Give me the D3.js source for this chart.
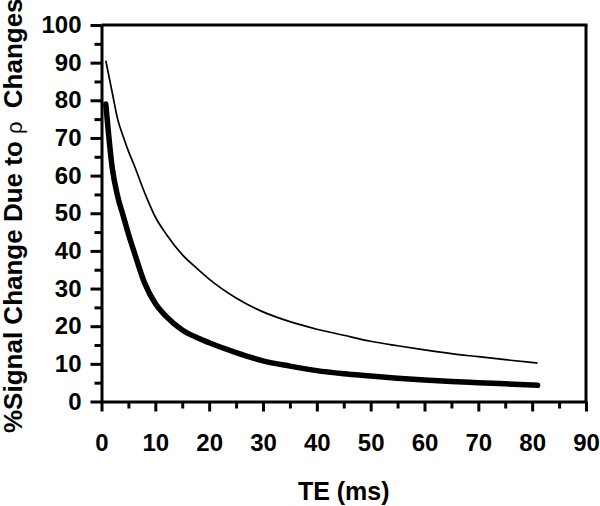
<!DOCTYPE html>
<html>
<head>
<meta charset="utf-8">
<script src="https://cdn.jsdelivr.net/npm/d3@7"></script>
<style>
    html, body { margin: 0; padding: 0; background: #fff; }
    svg { display: block; font-family: "Liberation Sans", Arial, sans-serif; }
</style>
</head>
<body>
<div id="chart"></div>
<script>
// TE values (ms) and % signal change
const te = [0.8, 2, 3, 4, 5, 6, 8, 10, 12, 15, 18, 20, 25, 30, 35, 40, 45, 50, 55, 60, 65, 70, 75, 81];
const thinSeries = [90.5, 82, 75, 70.5, 66.5, 63, 55.5, 49, 44.5, 39, 35, 32.5, 27.5, 23.8, 21.2, 19.2, 17.6, 16, 14.8, 13.7, 12.7, 11.9, 11.1, 10.2];
const thickSeries = [79, 62, 54.5, 49.5, 44.5, 40, 31.5, 26, 22.6, 19, 16.8, 15.6, 13, 10.8, 9.4, 8.2, 7.4, 6.8, 6.2, 5.7, 5.3, 5.0, 4.7, 4.3];

const xTicks = [0, 10, 20, 30, 40, 50, 60, 70, 80, 90];
const yTicks = [0, 10, 20, 30, 40, 50, 60, 70, 80, 90, 100];

const width = 600, height = 506;
const plotLeft = 101.5, plotRight = 586, plotTop = 25, plotBottom = 401.5;

const svg = d3.select("#chart")
    .append("svg")
    .attr("width", width)
    .attr("height", height);

const x = d3.scaleLinear().domain([0, 90]).range([plotLeft, plotRight]);
const y = d3.scaleLinear().domain([0, 100]).range([plotBottom, plotTop]);

// Minor ticks first (every 5)
const minorX = d3.range(5, 90, 10);
const minorY = d3.range(5, 100, 10);

svg.append("g")
    .attr("transform", `translate(0,${plotBottom})`)
    .call(d3.axisBottom(x).tickValues(minorX).tickSize(7).tickFormat(""))
    .call(g => g.select(".domain").remove())
    .selectAll("line").attr("stroke-width", 3);

svg.append("g")
    .attr("transform", `translate(${plotLeft},0)`)
    .call(d3.axisLeft(y).tickValues(minorY).tickSize(7).tickFormat(""))
    .call(g => g.select(".domain").remove())
    .selectAll("line").attr("stroke-width", 3);

// Major axes
const xAxis = svg.append("g")
    .attr("transform", `translate(0,${plotBottom})`)
    .call(d3.axisBottom(x).tickValues(xTicks).tickSize(10).tickSizeOuter(0).tickPadding(22));

const yAxis = svg.append("g")
    .attr("transform", `translate(${plotLeft},0)`)
    .call(d3.axisLeft(y).tickValues(yTicks).tickSize(11).tickSizeOuter(0).tickPadding(9));

[xAxis, yAxis].forEach(g => {
    g.select(".domain").attr("stroke-width", 3);
    g.selectAll(".tick line").attr("stroke-width", 3);
    g.selectAll("text")
        .attr("font-family", '"Liberation Sans", Arial, sans-serif')
        .attr("font-size", 24)
        .attr("font-weight", "bold")
        .attr("fill", "#000");
});

// Top and right frame
svg.append("line")
    .attr("x1", plotLeft).attr("x2", plotRight + 1.5)
    .attr("y1", plotTop).attr("y2", plotTop)
    .attr("stroke", "#000").attr("stroke-width", 3);
svg.append("line")
    .attr("x1", plotRight).attr("x2", plotRight)
    .attr("y1", plotTop).attr("y2", plotBottom)
    .attr("stroke", "#000").attr("stroke-width", 3);

// Curves
const line = d3.line()
    .x((d, i) => x(te[i]))
    .y(d => y(d))
    .curve(d3.curveMonotoneX);

svg.append("path")
    .datum(thinSeries)
    .attr("d", line)
    .attr("fill", "none")
    .attr("stroke", "#000")
    .attr("stroke-width", 1.7);

svg.append("path")
    .datum(thickSeries)
    .attr("d", line)
    .attr("fill", "none")
    .attr("stroke", "#000")
    .attr("stroke-width", 5.5)
    .attr("stroke-linecap", "round")
    .attr("stroke-linejoin", "round");

// Axis titles
svg.append("text")
    .attr("x", (plotLeft + plotRight) / 2)
    .attr("y", 500)
    .attr("text-anchor", "middle")
    .attr("font-size", 25)
    .attr("font-weight", "bold")
    .text("TE (ms)");

// y title runs up to the top edge in the original, so anchor it at its start
const yTitle = svg.append("text")
    .attr("transform", "translate(21.5,433) rotate(-90)")
    .attr("text-anchor", "start")
    .attr("font-size", 26)
    .attr("font-weight", "bold");
yTitle.append("tspan").text("%Signal Change Due to ");
yTitle.append("tspan").attr("font-weight", "normal").attr("font-size", 22).text("\u03c1");
yTitle.append("tspan").attr("dx", 6).text(" Changes");
</script>
</body>
</html>
